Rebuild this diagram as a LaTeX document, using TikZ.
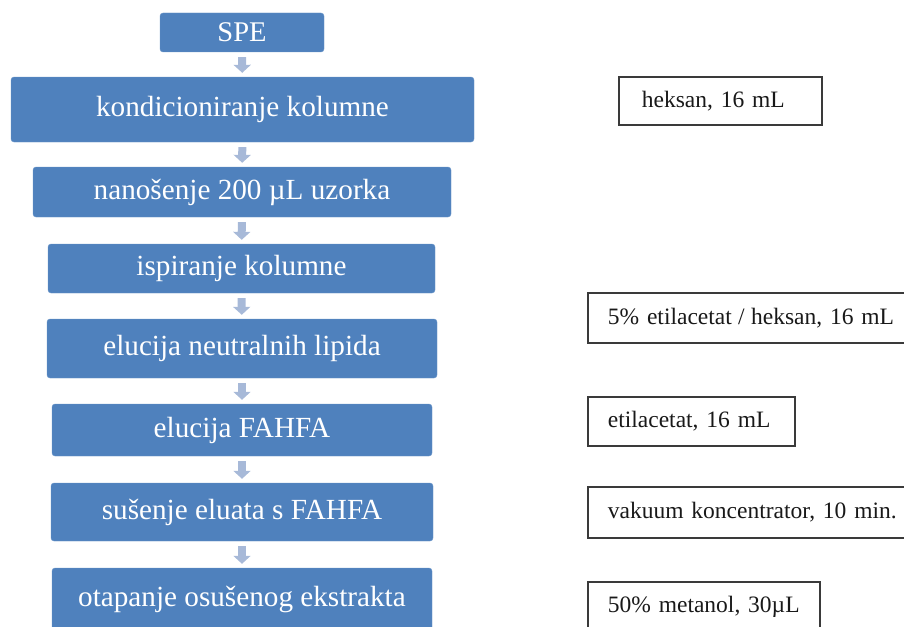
\documentclass[tikz,border=0pt]{standalone}
\usepackage{fontspec}
\setmainfont{Liberation Serif}
\usetikzlibrary{arrows.meta}
\definecolor{stepblue}{HTML}{4F81BD}
\definecolor{arrowblue}{HTML}{A7B9D8}
\definecolor{framegray}{HTML}{3A3A3A}

\begin{document}
\begin{tikzpicture}[x=1pt, y=-1pt,
		step_style/.style={rectangle,rounded corners=3pt,fill=stepblue,draw=stepblue!85!white,text=white,inner sep=0pt,font=\fontsize{29.2}{31}\selectfont},
		note_style/.style={rectangle,draw=framegray,line width=1.8pt,fill=white,text=black!90,inner ysep=0pt,inner xsep=20pt,align=left,anchor=west,font=\fontsize{23.5}{25}\selectfont},
		edge_style/.style={draw=arrowblue,line width=8pt,-{Triangle[width=17pt,length=8pt]},shorten <=5pt,shorten >=4pt}]

		\useasboundingbox (0,0) rectangle (904,626);
		\clip (0,0) rectangle (904,626);

		% steps
		\node[step_style,minimum width=164pt,minimum height=39pt,font=\fontsize{28.5}{30}\selectfont] (s0) at (242,32.5) {SPE};
		\node[step_style,minimum width=463pt,minimum height=65pt] (s1) at (242.5,109.5) {kondicioniranje kolumne};
		\node[step_style,minimum width=418pt,minimum height=50pt] (s2) at (242,192) {nanošenje 200 µL uzorka};
		\node[step_style,minimum width=387pt,minimum height=49pt] (s3) at (241.5,268.5) {ispiranje kolumne};
		\node[step_style,minimum width=390pt,minimum height=59pt] (s4) at (242,348.5) {elucija neutralnih lipida};
		\node[step_style,minimum width=380pt,minimum height=52pt] (s5) at (242,430) {elucija FAHFA};
		\node[step_style,minimum width=382pt,minimum height=58pt] (s6) at (242,512) {sušenje eluata s FAHFA};
		\node[step_style,minimum width=380pt,minimum height=62pt] (s7) at (242,599) {otapanje osušenog ekstrakta};

		% conditions
		\node[note_style,inner xsep=23pt,text width=157pt,minimum height=48pt] (c1) at (618,101) {heksan, 16 mL};
		\node[note_style,text width=293pt,minimum height=50pt] (c4) at (587,318) {5\% etilacetat\hspace{-1.5pt} /\hspace{-1.5pt} heksan, 16 mL};
		\node[note_style,text width=167pt,minimum height=49pt] (c5) at (587,421.5) {etilacetat, 16 mL};
		\node[note_style,text width=293pt,minimum height=51pt] (c6) at (587,512.5) {vakuum koncentrator, 10 min.};
		\node[note_style,text width=192pt,minimum height=50pt] (c7) at (587,607) {50\% metanol, 30µL};

		\draw[edge_style] (s0) -- (s1);
		\draw[edge_style] (s1) -- (s2);
		\draw[edge_style] (s2) -- (s3);
		\draw[edge_style] (s3) -- (s4);
		\draw[edge_style] (s4) -- (s5);
		\draw[edge_style] (s5) -- (s6);
		\draw[edge_style] (s6) -- (s7);
\end{tikzpicture}
\end{document}
